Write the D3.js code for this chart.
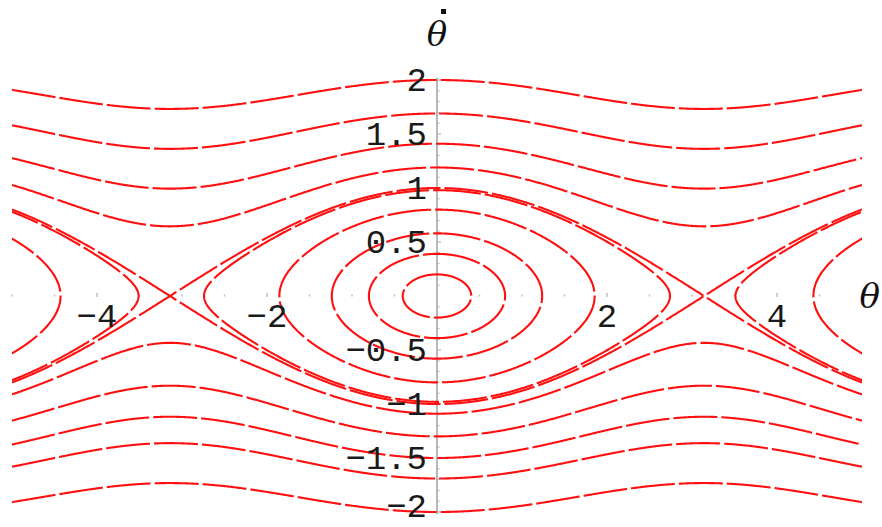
<!DOCTYPE html>
<html>
<head>
<meta charset="utf-8">
<script src="https://cdn.jsdelivr.net/npm/d3@7/dist/d3.min.js"></script>
<style>
  html, body { margin: 0; padding: 0; background: #fff; }
  svg { display: block; }
</style>
</head>
<body>
<svg id="chart" width="882" height="527"></svg>
<script>
// Phase portrait of the simple pendulum: theta'' = -w^2 sin(theta), w^2 = 0.25
const omegaSq = 0.25;

// Closed (libration) orbits around theta = 0: speed at theta = 0
const centerOrbitPeaks = [0.2, 0.39, 0.58, 0.80, 0.98];
// Closed orbits around theta = +/- 2*pi (only their inner halves show)
const sideOrbitPeaks = [0.80, 0.983];
const sideOrbitCenters = [-2 * Math.PI, 2 * Math.PI];
// Rotating (circulation) orbits: speed at theta = 0
const upperRotations = [1.19, 1.41, 1.69, 2.0];
const lowerRotations = [-1.09, -1.30, -1.50, -1.69, -2.0];

// Axis ticks and labels
const xTickLabels = [-4, -2, 2, 4];
const yTickLabels = [-2, -1.5, -1, -0.5, 0.5, 1, 1.5, 2];
const xDomain = [-5, 5];
const yDomain = [-2, 2];

const svg = d3.select("#chart");
const x = d3.scaleLinear().domain(xDomain).range([12, 862]);
const y = d3.scaleLinear().domain(yDomain).range([512, 80]);

const w = Math.sqrt(omegaSq);
const line = d3.line().x(d => x(d[0])).y(d => y(d[1])).curve(d3.curveLinear);

// closed orbit around c with peak speed v0: exact parametrisation via sin(theta/2) = k sin(phi)
function closedOrbit(c, v0) {
  const k = v0 / (2 * w);
  return d3.range(0, 721).map(i => {
    const phi = i / 720 * 2 * Math.PI;
    const s = Math.min(1, k * Math.sin(phi));
    return [c + 2 * Math.asin(s), 2 * w * k * Math.cos(phi)];
  });
}
// rotating orbit: v(theta) from energy conservation
function rotation(v0) {
  const sgn = Math.sign(v0);
  return d3.range(0, 1001).map(i => {
    const t = xDomain[0] + (xDomain[1] - xDomain[0]) * i / 1000;
    const s = Math.sin(t / 2);
    return [t, sgn * Math.sqrt(v0 * v0 - 4 * omegaSq * s * s)];
  });
}
// separatrix branches
function separatrix(sgn) {
  return d3.range(0, 1001).map(i => {
    const t = xDomain[0] + (xDomain[1] - xDomain[0]) * i / 1000;
    return [t, sgn * 2 * w * Math.abs(Math.cos(t / 2))];
  });
}

svg.append("defs").append("clipPath").attr("id", "plot")
  .append("rect")
  .attr("x", x(xDomain[0])).attr("y", y(2.06))
  .attr("width", x(xDomain[1]) - x(xDomain[0]))
  .attr("height", y(-2.06) - y(2.06));

// vertical axis with minor ticks
const axisG = svg.append("g");
axisG.append("line")
  .attr("x1", x(0)).attr("x2", x(0))
  .attr("y1", y(2.02)).attr("y2", y(-2.02))
  .attr("stroke", "#9a9a9a").attr("stroke-width", 1.4);
d3.range(-20, 21).forEach(i => {
  if (i === 0) return;
  const major = i % 5 === 0;
  axisG.append("line")
    .attr("x1", x(0)).attr("x2", x(0) + (major ? 4 : 2.5))
    .attr("y1", y(i / 10)).attr("y2", y(i / 10))
    .attr("stroke", "#b0b0b0").attr("stroke-width", 1);
});
// horizontal axis: only faint tick marks every 0.5
d3.range(-10, 11).forEach(i => {
  if (i === 0) return;
  const major = i % 4 === 0;
  axisG.append("line")
    .attr("x1", x(i / 2)).attr("x2", x(i / 2))
    .attr("y1", y(0) - (major ? 3 : 1.5)).attr("y2", y(0) + (major ? 1 : 0.5))
    .attr("stroke", "#bdbdbd").attr("stroke-width", 1.5);
});

// orbits
const curves = svg.append("g").attr("clip-path", "url(#plot)")
  .attr("fill", "none").attr("stroke", "#ff1010")
  .attr("stroke-width", 2.1).attr("stroke-linejoin", "round")
  .attr("stroke-dasharray", "44,4");

centerOrbitPeaks.forEach(v0 => curves.append("path").attr("d", line(closedOrbit(0, v0))));
sideOrbitCenters.forEach(c => sideOrbitPeaks.forEach(v0 =>
  curves.append("path").attr("d", line(closedOrbit(c, v0)))));
[1, -1].forEach(s => curves.append("path").attr("d", line(separatrix(s))));
upperRotations.concat(lowerRotations).forEach(v0 =>
  curves.append("path").attr("d", line(rotation(v0))));

// tick labels
const fmt = v => (v < 0 ? "\u2212" : "") + String(Math.abs(v));
const labelSize = 34;
const labels = svg.append("g")
  .attr("font-family", "'Liberation Mono', 'DejaVu Sans Mono', monospace")
  .attr("font-size", labelSize).attr("fill", "#1a1a1a");
yTickLabels.forEach(v => {
  // keep the lowest label's text box inside the frame
  const base = Math.min(y(v) + 0.32 * labelSize, 527 - 0.3 * labelSize);
  labels.append("text")
    .attr("x", x(0) - 10).attr("y", base)
    .attr("text-anchor", "end")
    .text(fmt(v));
});
xTickLabels.forEach(v => {
  labels.append("text")
    .attr("x", x(v)).attr("y", y(0) + 20)
    .attr("dy", "0.32em").attr("text-anchor", "middle")
    .text(fmt(v));
});

// axis titles
const titles = svg.append("g")
  .attr("font-family", "'DejaVu Serif', 'Liberation Serif', serif")
  .attr("font-style", "italic").attr("font-size", 34).attr("fill", "#111");
titles.append("text").attr("x", x(0)).attr("y", 46)
  .attr("text-anchor", "middle").text("\u03b8");
titles.append("rect").attr("x", x(0) + 4).attr("y", 9).attr("width", 5).attr("height", 5)
  .attr("fill", "#111");
titles.append("text").attr("x", 880).attr("y", 308)
  .attr("text-anchor", "end").text("\u03b8");
</script>
</body>
</html>
